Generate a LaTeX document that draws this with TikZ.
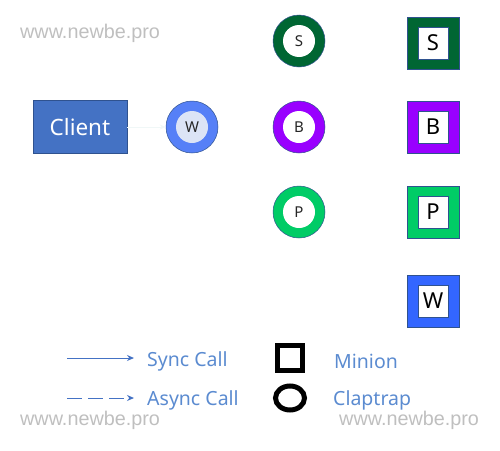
\documentclass[tikz,border=0pt]{standalone}
\usepackage{fontspec}
\setmainfont{Noto Sans}
\newfontfamily\wmfont{Liberation Sans}
\usetikzlibrary{arrows.meta,shapes.geometric}
\definecolor{cliblue}{HTML}{4472C4}
\definecolor{edgeblue}{HTML}{2F528F}
\definecolor{wblue}{HTML}{5680F7}
\definecolor{winner}{HTML}{DCE4F6}
\definecolor{sgreen}{HTML}{006633}
\definecolor{bpurple}{HTML}{9900FF}
\definecolor{pgreen}{HTML}{00CC66}
\definecolor{wsq}{HTML}{3366FF}
\definecolor{wmgray}{HTML}{BFBFBF}
\definecolor{legtext}{HTML}{5B8BD0}
\definecolor{faint}{HTML}{F0F7F7}
\begin{document}
\begin{tikzpicture}[x=1pt,y=-1pt,
  ring/.style={circle,draw=edgeblue,line width=0.5pt,minimum size=52pt,inner sep=0pt},
  ringin/.style={circle,fill=white,minimum size=32pt,inner sep=0pt,font=\fontsize{15}{15}\selectfont,text=black!85},
  sq/.style={rectangle,draw=edgeblue,line width=0.6pt,minimum size=52pt,inner sep=0pt},
  sqin/.style={rectangle,fill=white,draw=edgeblue,line width=0.4pt,minimum width=30pt,minimum height=32pt,inner sep=0pt,font=\fontsize{22}{22}\selectfont,text=black},
  wm/.style={font=\wmfont\fontsize{19.8}{19.8}\selectfont,text=wmgray,anchor=base west,inner sep=0pt,text height=10pt,text depth=3pt},
  leg/.style={font=\fontsize{19.5}{19.5}\selectfont,text=legtext,anchor=west,inner sep=0pt},
  arr/.style={draw=cliblue,line width=1pt,-{Stealth[length=7pt,width=6pt]}}
]
\useasboundingbox (0,0) rectangle (500,450);
% watermarks
\node[wm] (wm1) at (20,38) {www.newbe.pro};
\node[wm] (wm2) at (20,425.5) {www.newbe.pro};
\node[wm] (wm3) at (339,425.5) {www.newbe.pro};
% client
\node[rectangle,fill=cliblue,draw=edgeblue,line width=0.8pt,minimum width=94pt,minimum height=53pt,
  text=white,font=\fontsize{22.5}{22.5}\selectfont] (client) at (80,127) {Client};
% W ring
\node[ring,fill=wblue] (w) at (192,127) {};
\node[ringin,fill=winner] (wi) at (w) {W};
\draw[draw=faint,line width=1pt,-{Stealth[length=6pt,width=5pt]}] (client.east) -- (w.west);
% claptraps
\node[ring,fill=sgreen] (cs) at (299,41) {};
\node[ringin] (csi) at (cs) {S};
\node[ring,fill=bpurple] (cb) at (299,127) {};
\node[ringin] (cbi) at (cb) {B};
\node[ring,fill=pgreen] (cp) at (299,212) {};
\node[ringin] (cpi) at (cp) {P};
% minions
\node[sq,fill=sgreen] (ms) at (433,43) {};
\node[sqin] (msi) at (ms) {S};
\node[sq,fill=bpurple] (mb) at (433,127) {};
\node[sqin] (mbi) at (mb) {B};
\node[sq,fill=pgreen] (mp) at (433,212) {};
\node[sqin] (mpi) at (mp) {P};
\node[sq,fill=wsq] (mw) at (433,301) {};
\node[sqin] (mwi) at (mw) {W};
% legend
\coordinate (a1s) at (67,358);
\coordinate (a1e) at (134,358);
\coordinate (a2s) at (67,398);
\coordinate (a2e) at (134,398);
\draw[arr] (a1s) -- (a1e);
\draw[arr,dash pattern=on 15pt off 6pt] (a2s) -- (a2e);
\node[leg] (l1) at (147,361) {Sync Call};
\node[leg] (l2) at (147,400.5) {Async Call};
\node[rectangle,draw=black,line width=5pt,fill=white,minimum size=25pt,inner sep=0pt] (lm) at (290,358) {};
\node[ellipse,draw=black,line width=5pt,fill=white,minimum width=29pt,minimum height=24pt,inner sep=0pt] (lc) at (290,398) {};
\node[leg] (l3) at (334,361) {Minion};
\node[leg] (l4) at (333,400.5) {Claptrap};
\end{tikzpicture}
\end{document}
